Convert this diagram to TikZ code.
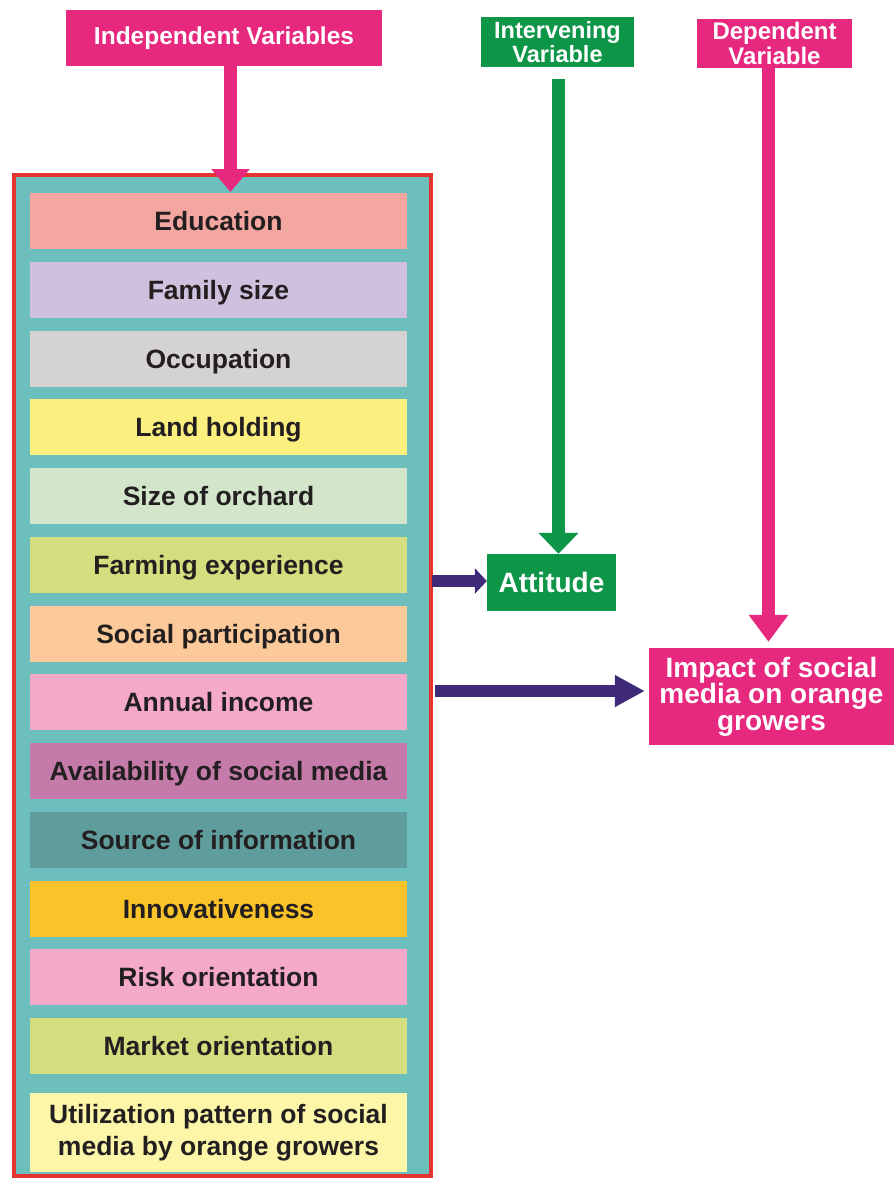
\documentclass[tikz,border=0pt]{standalone}
\usepackage{fontspec}
\setmainfont{Liberation Sans}
\usetikzlibrary{arrows.meta}
\definecolor{magentab}{HTML}{E6287F}
\definecolor{greenb}{HTML}{0E9648}
\definecolor{purpleb}{HTML}{3F2A79}
\definecolor{redb}{HTML}{E3342F}
\definecolor{tealb}{HTML}{6DBFBE}
\definecolor{txt}{HTML}{231F20}
\definecolor{cEdu}{HTML}{F4A6A0}
\definecolor{cFam}{HTML}{CFC0DD}
\definecolor{cOcc}{HTML}{D4D2D3}
\definecolor{cLand}{HTML}{FBF07F}
\definecolor{cOrch}{HTML}{D3E6CB}
\definecolor{cFarm}{HTML}{D4DE7E}
\definecolor{cSoc}{HTML}{FBC99A}
\definecolor{cInc}{HTML}{F5A9C9}
\definecolor{cAvail}{HTML}{C57BAA}
\definecolor{cSrc}{HTML}{5F9C9C}
\definecolor{cInno}{HTML}{FAC329}
\definecolor{cUtil}{HTML}{FDF6A8}
\begin{document}
\begin{tikzpicture}[x=1pt,y=-1pt,
  item/.style={minimum width=377pt, minimum height=56pt, inner sep=0pt,
    font=\bfseries\fontsize{26.5}{32}\selectfont, text=txt, align=center,
    text height=19pt, text depth=0pt},
  itemtwo/.style={minimum width=377pt, minimum height=79pt, inner sep=0pt,
    font=\bfseries\fontsize{26.5}{32}\selectfont, text=txt, align=center},
  headbox/.style={inner sep=0pt, text=white, align=center},
  shaft/.style={line width=13pt}]
\useasboundingbox (0,0) rectangle (894,1178);
\fill[white] (0,0) rectangle (894,1178);
% outer container
\draw[line width=4pt, draw=redb, fill=tealb] (14,175) rectangle (431,1176);
% items
\node[item, fill=cEdu]   (i1)  at (218.5,221)    {Education};
\node[item, fill=cFam]   (i2)  at (218.5,289.75) {Family size};
\node[item, fill=cOcc]   (i3)  at (218.5,358.5)  {Occupation};
\node[item, fill=cLand]  (i4)  at (218.5,427.25) {Land holding};
\node[item, fill=cOrch]  (i5)  at (218.5,496)    {Size of orchard};
\node[item, fill=cFarm]  (i6)  at (218.5,564.75) {Farming experience};
\node[item, fill=cSoc]   (i7)  at (218.5,633.5)  {Social participation};
\node[item, fill=cInc]   (i8)  at (218.5,702.25) {Annual income};
\node[item, fill=cAvail] (i9)  at (218.5,771)    {Availability of social media};
\node[item, fill=cSrc]   (i10) at (218.5,839.75) {Source of information};
\node[item, fill=cInno]  (i11) at (218.5,908.5)  {Innovativeness};
\node[item, fill=cInc]   (i12) at (218.5,977.25) {Risk orientation};
\node[item, fill=cFarm]  (i13) at (218.5,1046)   {Market orientation};
\node[itemtwo, fill=cUtil] (i14) at (218.5,1132.5)
  {Utilization pattern of social\\media by orange growers};
% header boxes
\node[headbox, fill=magentab, minimum width=316pt, minimum height=56pt,
  font=\bfseries\fontsize{24.5}{24}\selectfont] (indep) at (224,38) {Independent Variables};
\node[headbox, fill=greenb, minimum width=153pt, minimum height=50pt,
  font=\bfseries\fontsize{23.5}{24.5}\selectfont] (interv) at (557.5,42) {Intervening\\Variable};
\node[headbox, fill=magentab, minimum width=155pt, minimum height=49pt,
  font=\bfseries\fontsize{24}{24.5}\selectfont] (dep) at (774.5,43.5) {Dependent\\Variable};
\node[headbox, fill=greenb, minimum width=129pt, minimum height=57pt,
  text height=20pt, text depth=0pt,
  font=\bfseries\fontsize{28}{28}\selectfont] (att) at (551.5,582.5) {Attitude};
\node[headbox, fill=magentab, minimum width=245pt, minimum height=97pt,
  font=\bfseries\fontsize{28}{26.5}\selectfont] (impact) at (771.5,696.5) {Impact of social\\media on orange\\growers};
% arrows
\coordinate (indepTip) at (230.5,192);
\draw[shaft, magentab, -{Triangle[width=37pt,length=23pt]}] (230.5,66) -- (indepTip);
\draw[shaft, greenb, -{Triangle[width=39pt,length=21pt]}] ([xshift=1pt,yshift=-12pt]interv.south) -- ([xshift=7pt]att.north);
\draw[shaft, magentab, -{Triangle[width=38pt,length=27pt]}] ([xshift=-6pt]dep.south) -- ([xshift=-3pt,yshift=6pt]impact.north);
\coordinate (boxRight1) at (432,581);
\coordinate (boxRight2) at (435,691);
\draw[line width=12pt, purpleb, -{Triangle[width=25pt,length=12pt]}] (boxRight1) -- (att.west |- boxRight1);
\draw[line width=12pt, purpleb, -{Triangle[width=30pt,length=30pt]}] (boxRight2) -- ([xshift=-4pt]impact.west |- boxRight2);
\end{tikzpicture}
\end{document}
